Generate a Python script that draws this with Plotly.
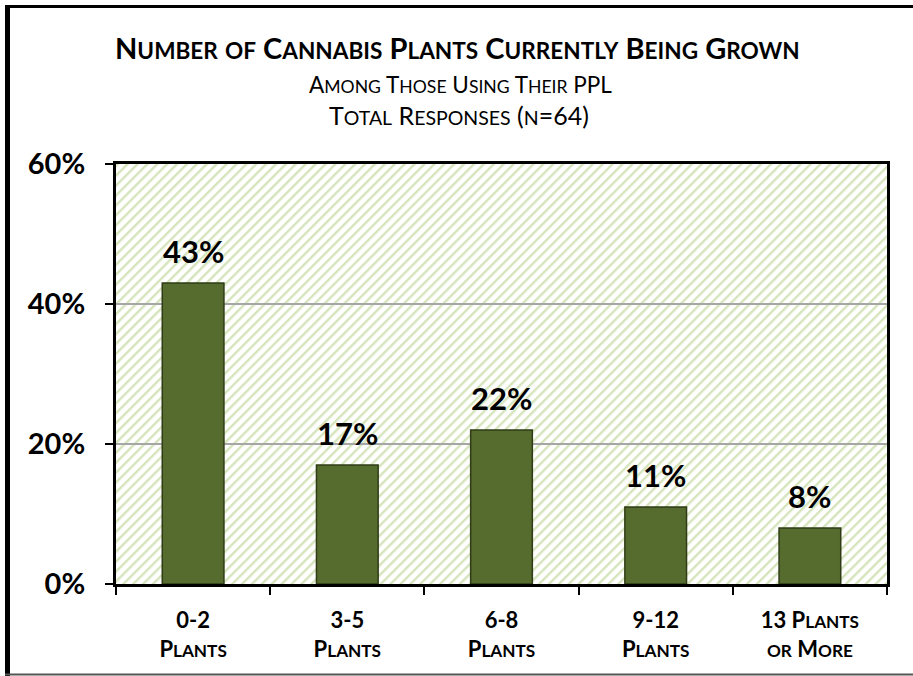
import re
import base64
import plotly.graph_objects as go

categories = ["0-2<br>Plants", "3-5<br>Plants", "6-8<br>Plants", "9-12<br>Plants", "13 Plants<br>or More"]
values = [43, 17, 22, 11, 8]
y_ticks = [0, 20, 40, 60]
y_tick_labels = ["0%", "20%", "40%", "60%"]
title_text = "Number of Cannabis Plants Currently Being Grown"
subtitle_1 = "Among Those Using Their PPL"
subtitle_2 = "Total Responses (n=64)"

W, H = 913, 676
L, R, T, B = 116, 26, 164, 92
PW, PH = W - L - R, H - T - B


def px(x):
    return (x - L) / PW


def py(y):
    return (H - B - y) / PH


def smallcaps(text, size, ratio=0.78):
    parts = re.split(r"(<br>)", text)
    out = []
    for p in parts:
        if p == "<br>":
            out.append(p)
            continue
        out.append(re.sub(r"[a-z]+",
                          lambda m: f'<span style="font-size:{size * ratio:.1f}px">{m.group(0).upper()}</span>',
                          p))
    return "".join(out)


FONT = "Lato, Carlito, Calibri, sans-serif"
y_max = y_ticks[-1]
XSIZE = 22

# diagonal-stripe texture for the plot area (decoration only)
svg = (f'<svg xmlns="http://www.w3.org/2000/svg" width="{PW}" height="{PH}">'
       '<defs><pattern id="p" width="7" height="7" patternUnits="userSpaceOnUse" patternTransform="rotate(45)">'
       '<rect width="7" height="7" fill="#ffffff"/><rect width="2.4" height="7" fill="#d6e4bc"/></pattern></defs>'
       '<rect width="100%" height="100%" fill="url(#p)"/></svg>')
svg_uri = "data:image/svg+xml;base64," + base64.b64encode(svg.encode()).decode()

fig = go.Figure()

fig.add_trace(go.Bar(
    x=categories, y=values, width=0.4,
    marker=dict(color="#566b2e", line=dict(color="#2f3c16", width=1.5)),
    showlegend=False,
))

for c, v in zip(categories, values):
    fig.add_annotation(x=c, y=v, text=f"<b>{v}%</b>", showarrow=False,
                       yanchor="bottom", yshift=11,
                       font=dict(family=FONT, size=31, color="black"))

fig.add_annotation(xref="paper", yref="paper", x=px(457), y=py(47),
                   text=f"<b>{smallcaps(title_text, 29)}</b>",
                   showarrow=False, xanchor="center", yanchor="middle",
                   font=dict(family=FONT, size=29, color="black"))
fig.add_annotation(xref="paper", yref="paper", x=px(460), y=py(84), text=smallcaps(subtitle_1, 22.5),
                   showarrow=False, xanchor="center", yanchor="middle",
                   font=dict(family=FONT, size=22.5, color="black"))
fig.add_annotation(xref="paper", yref="paper", x=px(459), y=py(115), text=smallcaps(subtitle_2, 25),
                   showarrow=False, xanchor="center", yanchor="middle",
                   font=dict(family=FONT, size=25, color="black"))

fig.add_layout_image(source=svg_uri, xref="paper", yref="paper", x=0, y=1, sizex=1, sizey=1,
                     xanchor="left", yanchor="top", sizing="stretch", layer="below")

# outer frame
fig.add_shape(type="line", xref="paper", yref="paper", x0=px(7.5), x1=px(7.5), y0=py(5), y1=py(676),
              line=dict(color="black", width=5))
fig.add_shape(type="line", xref="paper", yref="paper", x0=px(5), x1=px(913), y0=py(6.5), y1=py(6.5),
              line=dict(color="black", width=3))
fig.add_shape(type="line", xref="paper", yref="paper", x0=px(5), x1=px(913), y0=py(674.5), y1=py(674.5),
              line=dict(color="#555555", width=2))

fig.update_layout(
    width=W, height=H,
    margin=dict(l=L, r=R, t=T, b=B, autoexpand=False),
    paper_bgcolor="white", plot_bgcolor="rgba(0,0,0,0)",
    font=dict(family=FONT, color="black"),
    xaxis=dict(type="category", categoryorder="array", categoryarray=categories,
               tickvals=categories, ticktext=[f"<b>{smallcaps(c, XSIZE)}</b>" for c in categories],
               tickson="boundaries", ticks="outside", ticklen=8, tickwidth=2,
               tickcolor="black", showline=True, linecolor="black", linewidth=3, mirror=True,
               tickfont=dict(family=FONT, size=XSIZE, color="black"), automargin=False,
               showgrid=False, range=[-0.5, len(categories) - 0.5], ticklabelstandoff=15),
    yaxis=dict(range=[0, y_max], tickvals=y_ticks, ticktext=[f"<b>{t}</b>" for t in y_tick_labels],
               ticks="outside", ticklen=8, tickwidth=2, tickcolor="black", showline=True,
               linecolor="black", linewidth=3, mirror=True, showgrid=True, gridcolor="#a6a6a6",
               gridwidth=2, zeroline=False, automargin=False, ticklabelstandoff=14,
               tickfont=dict(family=FONT, size=29, color="black")),
)

fig.write_html("out.html", config={"displayModeBar": False},
               post_script="document.body.style.margin='0';")
